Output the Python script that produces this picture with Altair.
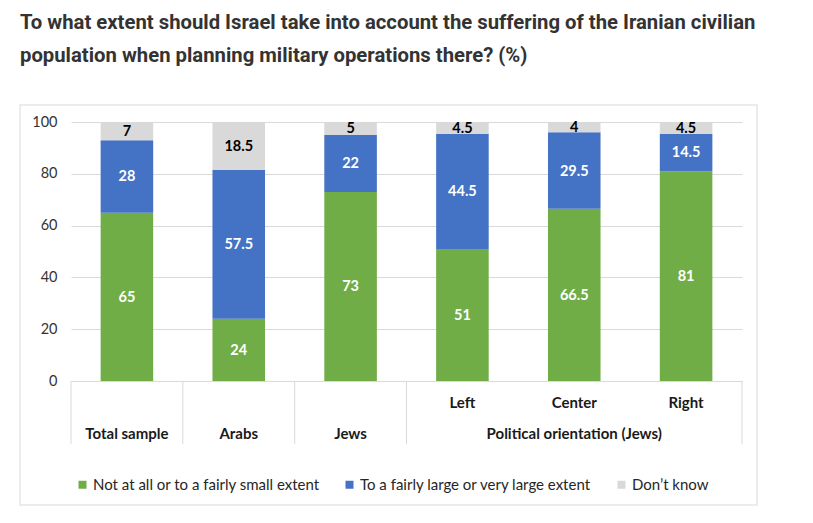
import altair as alt
import pandas as pd

categories = ["Total sample", "Arabs", "Jews", "Left", "Center", "Right"]
top_labels = ["", "", "", "Left", "Center", "Right"]
bottom_labels = ["Total sample", "Arabs", "Jews", "", "Political orientation (Jews)", ""]
responses = [
    "Not at all or to a fairly small extent",
    "To a fairly large or very large extent",
    "Don\u2019t know",
]
not_at_all = [65, 24, 73, 51, 66.5, 81]
large_extent = [28, 57.5, 22, 44.5, 29.5, 14.5]
dont_know = [7, 18.5, 5, 4.5, 4, 4.5]
colors = ["#70ad47", "#4472c4", "#d9d9d9"]
separators_start = ["Total sample", "Arabs", "Jews", "Left"]
separators_end = ["Right"]

title_lines = [
    "To what extent should Israel take into account the suffering of the Iranian civilian",
    "population when planning military operations there? (%)",
]

rows = []
for i, c in enumerate(categories):
    for k, (r, vals) in enumerate(zip(responses, [not_at_all, large_extent, dont_know])):
        rows.append({"cat": c, "response": r, "order": k, "value": vals[i]})
df = pd.DataFrame(rows)

W, H = 671, 259
FONT = "Lato"

label_expr = " : ".join(
    f"datum.value == '{c}' ? ['{t}', '{b}']" for c, t, b in zip(categories, top_labels, bottom_labels)
) + " : ''"

xscale = alt.Scale(domain=categories, paddingInner=0, paddingOuter=0)

base = alt.Chart(df).transform_stack(
    stack="value", groupby=["cat"], as_=["y0", "y1"], sort=[alt.SortField("order")]
).transform_calculate(mid="(datum.y0 + datum.y1) / 2")

card = alt.Chart(pd.DataFrame({"a": [0]})).mark_rect(
    fill="transparent", stroke="#e6e6e6", strokeWidth=1.5
).encode(
    x=alt.value(-51), x2=alt.value(686), y=alt.value(-17), y2=alt.value(383)
)

bars = base.mark_bar(width=alt.RelativeBandSize(0.47)).encode(
    x=alt.X(
        "cat:N",
        scale=xscale,
        sort=categories,
        axis=alt.Axis(
            title=None,
            labelExpr=label_expr,
            ticks=False,
            tickSize=0,
            domainColor="#d9d9d9",
            domainWidth=1,
            labelFont=FONT,
            labelFontSize=15,
            labelFontWeight="bold",
            labelColor="#1a1a1a",
            labelLineHeight=31,
            labelPadding=14,
            labelBaseline="top",
            labelLimit=400,
            labelOverlap=False,
            labelAngle=0,
        ),
    ),
    y=alt.Y(
        "y0:Q",
        scale=alt.Scale(domain=[0, 100]),
        axis=alt.Axis(
            title=None,
            values=[0, 20, 40, 60, 80, 100],
            domain=False,
            ticks=False,
            gridColor="#d9d9d9",
            labelFont=FONT,
            labelFontSize=14.5,
            labelColor="#333333",
            labelPadding=14,
        ),
    ),
    y2="y1:Q",
    color=alt.Color(
        "response:N",
        scale=alt.Scale(domain=responses, range=colors),
        legend=alt.Legend(
            title=None,
            orient="none",
            legendX=4,
            legendY=355,
            direction="horizontal",
            symbolType="square",
            symbolSize=64,
            symbolStrokeWidth=0,
            labelFont=FONT,
            labelFontSize=15,
            labelColor="#262626",
            labelOffset=3,
            columnPadding=22,
            labelLimit=400,
        ),
    ),
)

texts = base.mark_text(font=FONT, fontSize=14.5, fontWeight="bold", baseline="middle", dy=1).encode(
    x=alt.X("cat:N", scale=xscale, sort=categories),
    y=alt.Y("mid:Q"),
    text=alt.Text("value:Q"),
    color=alt.condition(
        "datum.order == 2", alt.value("#000000"), alt.value("#ffffff")
    ),
)

sep_a = alt.Chart(pd.DataFrame({"cat": separators_start})).mark_rule(color="#d9d9d9", strokeWidth=1).encode(
    x=alt.X("cat:N", scale=xscale, sort=categories, bandPosition=0),
    y=alt.value(H),
    y2=alt.value(H + 63),
)
sep_b = alt.Chart(pd.DataFrame({"cat": separators_end})).mark_rule(color="#d9d9d9", strokeWidth=1).encode(
    x=alt.X("cat:N", scale=xscale, sort=categories, bandPosition=1),
    y=alt.value(H),
    y2=alt.value(H + 63),
)

chart = alt.layer(card, bars, texts, sep_a, sep_b).properties(
    width=W,
    height=H,
    autosize=alt.AutoSizeParams(type="none"),
    padding={"left": 63, "top": 114, "right": 63, "bottom": 134},
    title=alt.TitleParams(
        text=title_lines,
        anchor="start",
        frame="group",
        dx=-51,
        offset=38,
        font="Roboto",
        fontSize=20.3,
        fontWeight="bold",
        color="#333333",
        lineHeight=33,
    ),
).configure_view(stroke=None)

chart.save("out.html", embed_options={"renderer": "svg", "actions": False})
